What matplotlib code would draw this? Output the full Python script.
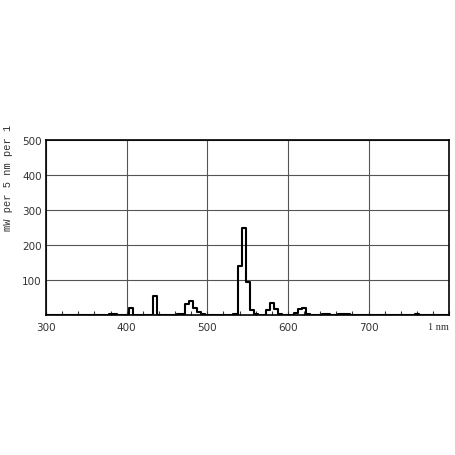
import numpy as np
import matplotlib.pyplot as plt

# spectral power in 5 nm bins (bin centres in nm)
wavelength = [380, 385, 400, 405, 410, 430, 435, 440, 465, 470, 475, 480, 485, 490, 495,
              535, 540, 545, 550, 555, 560, 575, 580, 585, 590,
              610, 615, 620, 625, 645, 650, 665, 670, 675, 760]
power = [3, 2, 0, 20, 0, 0, 53, 0, 2, 4, 32, 40, 20, 8, 3,
         3, 141, 248, 95, 15, 3, 14, 34, 16, 4,
         5, 18, 20, 3, 4, 2, 4, 4, 4, 3]

# fill a full 5 nm grid so the outline drops to zero between lines
grid = np.arange(300, 805, 5)
values = np.zeros(len(grid))
for w, p in zip(wavelength, power):
    values[np.where(grid == w)[0][0]] = p

fig = plt.figure(figsize=(4.56, 4.56), dpi=100)
ax = fig.add_axes([0.101, 0.307, 0.884, 0.384])

ax.step(grid, values, where='mid', color='black', linewidth=1.5)

ax.set_xlim(300, 800)
ax.set_ylim(0, 500)

ax.set_xticks([300, 400, 500, 600, 700])
ax.set_xticks(np.arange(300, 801, 20), minor=True)
ax.set_yticks([100, 200, 300, 400, 500])
ax.set_yticks([], minor=True)
ax.tick_params(axis='x', which='both', direction='in', length=3, width=0.8, pad=5,
               labelsize=7.5, colors='#333333')
ax.tick_params(axis='y', which='both', length=0, pad=3, labelsize=7.5, colors='#333333')
for lab in ax.get_xticklabels() + ax.get_yticklabels():
    lab.set_fontfamily('DejaVu Sans')

ax.grid(True, which='major', color='#555555', linewidth=0.8)
for s in ax.spines.values():
    s.set_linewidth(1.2)

ax.text(800, -32, '1 nm', ha='right', va='center', fontsize=7.5, color='#333333',
        family='Liberation Serif')
fig.text(0.018, 0.61, 'mW per 5 nm per 1', rotation=90, ha='center', va='center',
         fontsize=7.5, color='#333333', family='Liberation Mono')

fig.savefig('out.png', dpi=100)
